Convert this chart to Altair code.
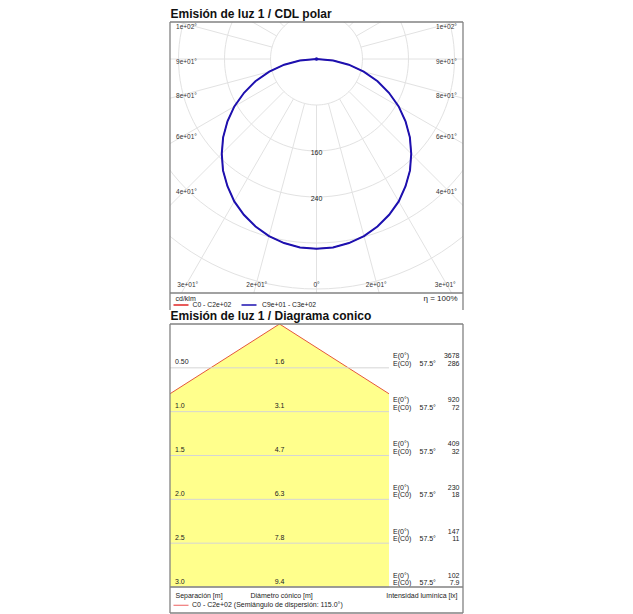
import altair as alt
import numpy as np
import pandas as pd

# ---------------- data ----------------
# Polar luminous intensity distribution (cd/klm) vs gamma angle (deg)
gamma_deg = [0, 5, 10, 15, 20, 25, 30, 35, 40, 45, 50, 55, 60, 65, 70, 75, 80, 85, 90]
c0_c180 = [330, 329, 325, 319, 310, 299, 286, 270, 253, 233, 212, 189, 165, 139, 113, 85, 57, 29, 0]
c90_c270 = [330, 329, 325, 319, 310, 299, 286, 270, 253, 233, 212, 189, 165, 139, 113, 85, 57, 29, 0]
grid_radii = [80, 160, 240, 320, 400, 480, 560, 640]
radial_label_values = [160, 240]
ray_angles = list(range(0, 360, 15))
angle_tick_angles = [0, 15, 30, 45, 60, 75, 90, 105]
angle_tick_labels = ["0°", "2e+01°", "3e+01°", "4e+01°", "6e+01°", "8e+01°", "9e+01°", "1e+02°"]

# Cone diagram
separations = [0.5, 1.0, 1.5, 2.0, 2.5, 3.0]
separation_labels = ["0.50", "1.0", "1.5", "2.0", "2.5", "3.0"]
cone_diameters = ["1.6", "3.1", "4.7", "6.3", "7.8", "9.4"]
e_nadir = ["3678", "920", "409", "230", "147", "102"]
e_c0 = ["286", "72", "32", "18", "11", "7.9"]
half_angle = 57.5

# ---------------- styling / layout ----------------
FONT = "Liberation Sans"
FRAME = "#828282"
GRID = "#e2e2e2"
BLUE = "#1c10b0"
RED = "#e02525"
YELLOW = "#ffff8c"

# polar panel
PW, PH = 293, 271
LEG1 = 17
px_per_unit = 0.575
center_from_top = 37
XD = [-PW / 2 / px_per_unit, PW / 2 / px_per_unit]
YD = [-(PH - center_from_top) / px_per_unit, center_from_top / px_per_unit]
xs = alt.Scale(domain=XD, nice=False, zero=False)
ys = alt.Scale(domain=YD, nice=False, zero=False)


def X(f):
    return alt.X(f, type="quantitative", scale=xs, axis=None)


def Y(f):
    return alt.Y(f, type="quantitative", scale=ys, axis=None)


def curve_df(vals):
    g = np.radians(gamma_deg)
    v = np.array(vals, float)
    rows = []
    o = 0
    for side in (-1, 1):
        idx = range(len(g) - 1, -1, -1) if side == -1 else range(len(g))
        for i in idx:
            rows.append({"x": side * v[i] * np.sin(g[i]), "y": -v[i] * np.cos(g[i]), "o": o})
            o += 1
    return pd.DataFrame(rows)


circ_rows = []
for r in grid_radii:
    for a in range(0, 361, 3):
        t = np.radians(a)
        circ_rows.append({"r": r, "a": a, "x": r * np.sin(t), "y": -r * np.cos(t)})
circ_df = pd.DataFrame(circ_rows)

ray_df = pd.DataFrame([
    {"x0": 80 * np.sin(np.radians(a)), "y0": -80 * np.cos(np.radians(a)),
     "x1": 900 * np.sin(np.radians(a)), "y1": -900 * np.cos(np.radians(a))}
    for a in ray_angles
])

side_u = 130 / px_per_unit
bottom_u = 223 / px_per_unit
lab_rows = []
for ang, lab in zip(angle_tick_angles, angle_tick_labels):
    t = np.radians(ang)
    cands = []
    if np.sin(t) > 1e-9:
        cands.append(side_u / np.sin(t))
    if np.cos(t) > 1e-9:
        cands.append(bottom_u / np.cos(t))
    d = min(cands)
    sides = (1,) if ang == 0 else (-1, 1)
    for s in sides:
        lab_rows.append({"x": s * d * np.sin(t), "y": -d * np.cos(t), "t": lab})
lab_df = pd.DataFrame(lab_rows)

rad_df = pd.DataFrame({"x": [0] * len(radial_label_values),
                       "y": [-v for v in radial_label_values],
                       "t": [str(v) for v in radial_label_values]})

one = pd.DataFrame({"a": [0]})


def rule(x, y, x2=None, y2=None, color=FRAME, w=1.3):
    enc = {"x": alt.value(x), "y": alt.value(y)}
    if x2 is not None:
        enc["x2"] = alt.value(x2)
    if y2 is not None:
        enc["y2"] = alt.value(y2)
    return alt.Chart(one).mark_rule(color=color, strokeWidth=w).encode(**enc)


def label(text, x, y, size=7, align="left", weight="normal", baseline="middle", color="#222"):
    return alt.Chart(pd.DataFrame({"t": [text]})).mark_text(
        font=FONT, fontSize=size, align=align, baseline=baseline, fontWeight=weight, color=color
    ).encode(x=alt.value(x), y=alt.value(y), text="t:N")


circles = alt.Chart(circ_df).mark_line(clip=True, color=GRID, strokeWidth=1).encode(
    x=X("x"), y=Y("y"), detail="r:N", order="a:Q")
rays = alt.Chart(ray_df).mark_rule(clip=True, color=GRID, strokeWidth=1).encode(
    x=X("x0"), y=Y("y0"), x2="x1:Q", y2="y1:Q")
red_curve = alt.Chart(curve_df(c0_c180)).mark_line(color=RED, strokeWidth=1).encode(
    x=X("x"), y=Y("y"), order="o:Q")
blue_curve = alt.Chart(curve_df(c90_c270)).mark_line(color=BLUE, strokeWidth=2).encode(
    x=X("x"), y=Y("y"), order="o:Q")
dot = alt.Chart(pd.DataFrame({"x": [0], "y": [0]})).mark_point(
    filled=True, color=BLUE, size=12, opacity=1).encode(x=X("x"), y=Y("y"))
ang_labels = alt.Chart(lab_df).mark_text(font=FONT, fontSize=6.5, color="#333", dy=2.5).encode(
    x=X("x"), y=Y("y"), text="t:N")
rad_labels = alt.Chart(rad_df).mark_text(font=FONT, fontSize=7, color="#222", dy=2).encode(
    x=X("x"), y=Y("y"), text="t:N")

polar = alt.layer(
    circles, rays, red_curve, blue_curve, dot, ang_labels, rad_labels,
    rule(0, 0, x2=PW), rule(0, 0, y2=PH + LEG1), rule(PW, 0, y2=PH + LEG1), rule(0, PH, x2=PW),
    label("Emisión de luz 1 / CDL polar", 0.5, -4, size=12, weight="bold", baseline="alphabetic", color="#111"),
    label("cd/klm", 5.5, PH + 5.5, size=7),
    label("η = 100%", 287.5, PH + 5.5, size=8, align="right"),
    rule(3.5, PH + 12, x2=18.5, color=RED, w=1.5),
    label("C0 - C2e+02", 22.5, PH + 12, size=6.8),
    rule(71.5, PH + 12, x2=86.5, color=BLUE, w=1.5),
    label("C9e+01 - C3e+02", 92, PH + 12, size=6.8),
).properties(width=PW, height=PH)

# cone panel
CW, CH = 293, 263
LEG2 = 26
px_per_m = CH / 3.0
apex_px = 109.5
col_px = 219
xs2 = alt.Scale(domain=[-apex_px / px_per_m, (CW - apex_px) / px_per_m], nice=False, zero=False)
ys2 = alt.Scale(domain=[0, 3], reverse=True, nice=False, zero=False)
tn = np.tan(np.radians(half_angle))
dmax = max(separations)

cone_area_df = pd.DataFrame({"d": [0, dmax], "xl": [0, -dmax * tn], "xr": [0, dmax * tn]})
edge_df = pd.DataFrame({"d": [0, dmax, 0, dmax], "x": [0, -dmax * tn, 0, dmax * tn], "s": ["l", "l", "r", "r"]})
rows_df = pd.DataFrame({"d": separations, "sep": separation_labels, "dia": cone_diameters,
                        "e0": e_nadir, "ec0": e_c0})

cone_area = alt.Chart(cone_area_df).mark_area(orient="horizontal", clip=True, color=YELLOW, opacity=1).encode(
    y=alt.Y("d:Q", scale=ys2, axis=None),
    x=alt.X("xl:Q", scale=xs2, axis=None), x2="xr:Q")
cone_edges = alt.Chart(edge_df).mark_line(clip=True, color="#e4573c", strokeWidth=1).encode(
    y=alt.Y("d:Q", scale=ys2, axis=None), x=alt.X("x:Q", scale=xs2, axis=None), detail="s:N", order="d:Q")
white_col = alt.Chart(one).mark_rect(color="white").encode(
    x=alt.value(col_px), x2=alt.value(CW), y=alt.value(0), y2=alt.value(CH))
row_lines = alt.Chart(rows_df).mark_rule(color="#d5d5d5", strokeWidth=1).encode(
    y=alt.Y("d:Q", scale=ys2, axis=None), x=alt.value(0), x2=alt.value(col_px))


def row_text(field, x, dy, align="left"):
    return alt.Chart(rows_df).mark_text(font=FONT, fontSize=7, color="#222", align=align,
                                        baseline="middle", dy=dy).encode(
        y=alt.Y("d:Q", scale=ys2, axis=None), x=alt.value(x), text=f"{field}:N")


def row_const(text, x, dy, align="left"):
    return alt.Chart(rows_df).mark_text(font=FONT, fontSize=7, color="#222", align=align,
                                        baseline="middle", dy=dy, text=text).encode(
        y=alt.Y("d:Q", scale=ys2, axis=None), x=alt.value(x))


cone = alt.layer(
    cone_area, cone_edges, white_col, row_lines,
    row_text("sep", 5, -5.5),
    row_text("dia", apex_px, -5.5, align="center"),
    row_const("E(0°)", 223, -11.5),
    row_const("E(C0)", 223, -4),
    row_const(f"{half_angle}°", 249.5, -4),
    row_text("e0", 289.5, -11.5, align="right"),
    row_text("ec0", 289.5, -4, align="right"),
    rule(0, 0, x2=CW), rule(0, 0, y2=CH + LEG2), rule(CW, 0, y2=CH + LEG2),
    rule(0, CH, x2=CW), rule(0, CH + LEG2, x2=CW),
    label("Emisión de luz 1 / Diagrama conico", 0.5, -4, size=12, weight="bold", baseline="alphabetic", color="#111"),
    label("Separación [m]", 5.5, CH + 9.3, size=7),
    label("Diámetro cónico [m]", 80.5, CH + 9.3, size=7),
    label("Intensidad lumínica [lx]", 287.5, CH + 9.3, size=7, align="right"),
    rule(3.5, CH + 18.3, x2=18.5, color="#f07a7a", w=1.2),
    label(f"C0 - C2e+02 (Semiángulo de dispersión: {2 * half_angle:.1f}°)", 22, CH + 18.3, size=7),
).properties(width=CW, height=CH)

chart = alt.vconcat(polar, cone, spacing=31, bounds="flush").properties(
    padding={"left": 161, "top": 0, "right": 0, "bottom": 0}
).configure_view(stroke=None)

chart.save("out.html", embed_options={"renderer": "svg", "actions": False})
